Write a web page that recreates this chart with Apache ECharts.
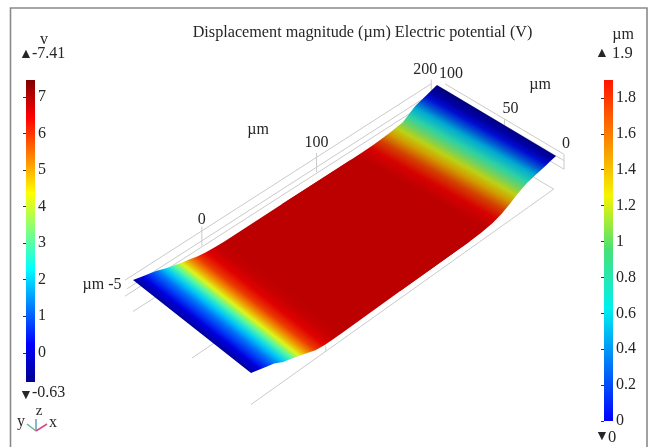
<!DOCTYPE html>
<html><head><meta charset="utf-8">
<style>html,body{margin:0;padding:0;background:#fff}#c{width:650px;height:447px}</style>
<script src="https://cdn.jsdelivr.net/npm/echarts@6/dist/echarts.min.js"></script>
</head><body><div id="c"></div>
<script>
// ---- data (micrometres / volts) ----
const stationX = [-60,-52,-45,-40,-32,-25,-18,-11,-4,4,12,20,70,130,140,150,158,165,170,175,180,186,191,196,200,205];
const stationZBack = [0,-0.2,-0.38,-0.5,-0.8,-1.0,-1.2,-1.35,-1.55,-1.65,-1.72,-1.75,-1.7,-1.7,-1.68,-1.65,-1.58,-1.5,-1.42,-1.35,-1.0,-0.62,-0.45,-0.3,-0.15,0];
const stationZFront = [0,-0.25,-0.45,-0.6,-1.04,-1.25,-1.5,-1.75,-2.0,-2.12,-2.15,-2.15,-2.1,-2.1,-2.05,-1.9,-1.65,-1.3,-1.0,-0.75,-0.55,-0.4,-0.3,-0.2,-0.1,0];
const stationV = [-0.45,0.15,0.9,1.3,2.0,3.0,4.2,5.2,5.9,6.4,6.6,6.67,6.67,6.67,6.67,6.4,5.8,4.9,4.2,3.5,2.8,2.0,1.2,0.5,-0.1,-0.5];
const stationShade = [0.97,0.97,0.97,0.97,0.97,0.97,0.96,0.94,0.92,0.88,0.86,0.85,0.85,0.85,0.85,0.84,0.83,0.82,0.82,0.82,0.82,0.82,0.82,0.82,0.82,0.82];
// the surface is drawn as two halves overlapping on the plateau: [first, last, station whose edge sets the band direction]
const surfaceHalves = [[0,13,5],[12,25,19]];
// wire-frame segments: [x1,y1,z1, x2,y2,z2]
const gridSegments = [
  [-67,100,0.43, 200,100,0.43],[-65,100,-0.43, 200,100,-0.43],[-67,100,-0.96, 200,100,-0.96],
  [-60,0,-2.74, 203,0,-2.74],[-60,50,-2.74, 203,50,-2.74],[-60,100,-2.74, 203,100,-2.74],
  [203,0,-2.74, 203,100,-2.74],
  [212,100,-0.35, 212,0,-0.35],[212,100,-0.9, 212,0,-0.9],[212,100,-1.65, 212,0,-1.65],
  [212,0,-0.35, 212,0,-1.65],
  [0,100,0.8, 0,100,-0.85],[100,100,0.8, 100,100,-0.85],[200,100,0.8, 200,100,-1.2],
  [212,50,-0.35, 212,50,-0.9],[5,0,-2.74, 5,0,-2.3]
];
const xTicks = [0,100,200];
const yTicks = [100,50,0];
const potentialTicks = [0,1,2,3,4,5,6,7];
const displacementTicks = [0,0.2,0.4,0.6,0.8,1,1.2,1.4,1.6,1.8];
const potentialBar = [-0.8,7.46];
const displacementBar = [0,1.9];
const jetStops = [[0,[0,0,143]],[0.125,[0,0,255]],[0.375,[0,255,255]],[0.625,[255,255,0]],[0.875,[255,0,0]],[1,[128,0,0]]];
const rainbowStops = [[0,[0,0,255]],[0.33,[0,240,240]],[0.5,[70,225,120]],[0.66,[245,245,0]],[1,[255,20,0]]];

// ---- view ----
const cornerA=[133,280],cornerB=[437,85],cornerC=[556,156],cornerD=[251,373];
const zScale=11.5, xMin=-60, xMax=205, serif='"Liberation Serif"', ink='#262626', wire='#cbcbcb';
function project(x,y,z){
  const u=(x-xMin)/(xMax-xMin), v=y/100;
  const b=[cornerD[0]+(cornerC[0]-cornerD[0])*u, cornerD[1]+(cornerC[1]-cornerD[1])*u];
  const t=[cornerA[0]+(cornerB[0]-cornerA[0])*u, cornerA[1]+(cornerB[1]-cornerA[1])*u];
  return [b[0]+(t[0]-b[0])*v, b[1]+(t[1]-b[1])*v - zScale*z];
}
function rampColor(stops,t,shade){
  t=Math.max(0,Math.min(1,t));
  let rgb=stops[stops.length-1][1];
  for(let i=1;i<stops.length;i++){ if(t<=stops[i][0]){
    const a=stops[i-1],b=stops[i],f=(t-a[0])/(b[0]-a[0]);
    rgb=a[1].map((c,k)=>c+(b[1][k]-c)*f); break;
  }}
  return 'rgb('+rgb.map(c=>Math.round(c*shade)).join(',')+')';
}
const jet=k=>rampColor(jetStops,(stationV[k]+0.63)/8.04,stationShade[k]);
const G=echarts.graphic;

function renderSurface(params,api){
  const h=surfaceHalves[params.dataIndex], first=h[0], last=h[1], ref=h[2];
  const back=k=>api.coord(project(stationX[k],100,stationZBack[k]));
  const front=k=>api.coord(project(stationX[k],0,stationZFront[k]));
  const pts=[], rear=[];
  for(let k=first;k<=last;k++){ pts.push(back(k)); rear.unshift(front(k)); }
  const a=back(ref), b=front(ref), e=[b[0]-a[0],b[1]-a[1]], L=Math.hypot(e[0],e[1]), n=[-e[1]/L,e[0]/L];
  const mid=k=>{const p=back(k),q=front(k);return [(p[0]+q[0])/2,(p[1]+q[1])/2];};
  const m0=mid(first), m1=mid(last);
  const along=k=>{const m=mid(k);return (m[0]-m0[0])*n[0]+(m[1]-m0[1])*n[1];};
  const span=along(last);
  const stops=[];
  for(let k=first;k<=last;k++) stops.push({offset:Math.max(0,Math.min(1,along(k)/span)),color:jet(k)});
  const fill=new G.LinearGradient(m0[0],m0[1],m0[0]+n[0]*span,m0[1]+n[1]*span,stops,true);
  return {type:'polygon',shape:{points:pts.concat(rear)},style:{fill:fill}};
}
function renderSegment(params,api){
  const s=gridSegments[params.dataIndex];
  const a=api.coord(project(s[0],s[1],s[2])), b=api.coord(project(s[3],s[4],s[5]));
  return {type:'line',shape:{x1:a[0],y1:a[1],x2:b[0],y2:b[1]},style:{stroke:wire,lineWidth:1,fill:null}};
}
function renderTickText(params,api){
  const x=api.value(0),y=api.value(1),z=api.value(2),dx=api.value(3),dy=api.value(5);
  const c=api.coord(project(x,y,z));
  return {type:'text',style:{x:c[0]+dx,y:c[1]+dy,text:String(api.value(4)),textAlign:'center',textVerticalAlign:'bottom',
    font:'16px '+serif,fill:ink}};
}
function barRenderer(lo,hi,stops){
  return function(params,api){
    const a=api.coord([0,hi]),b=api.coord([1,lo]);
    const fill=new G.LinearGradient(0,1,0,0,stops.map(s=>({offset:s[0],color:'rgb('+s[1].join(',')+')'})));
    return {type:'rect',shape:{x:a[0],y:a[1],width:b[0]-a[0],height:b[1]-a[1]},style:{fill:fill}};
  };
}
function txt(x,y,t,size,align){
  return {type:'text',x:x,y:y,silent:true,style:{text:t,font:(size||15)+'px '+serif,fill:ink,textAlign:align||'left',textVerticalAlign:'middle'}};
}
function seg(x1,y1,x2,y2,c,w){
  return {type:'line',silent:true,shape:{x1,y1,x2,y2},style:{stroke:c,lineWidth:w||1.5}};
}
function barAxis(min,max,ticks){
  return {type:'value',position:'right',min:min,max:max,gridIndex:0,
    splitLine:{show:false},axisLine:{show:false},
    axisTick:{show:true,inside:true,length:3,customValues:ticks,lineStyle:{color:'#333',width:1}},
    axisLabel:{show:true,customValues:ticks,margin:3,fontFamily:serif,fontSize:16,color:ink,hideOverlap:false,showMinLabel:true,showMaxLabel:true}};
}
const hiddenX=(g,min,max)=>({type:'value',gridIndex:g,min:min,max:max,show:false});
const tickData=xTicks.map(t=>[t,100,0.8,t===200?-6:0,t,t===0?1:-2])
  .concat(yTicks.map((t,i)=>[212,t,-0.35,t===0?2:6,t,-2]));

const chart=echarts.init(document.getElementById('c'),null,{renderer:'canvas'});
const lAxis=barAxis(potentialBar[0],potentialBar[1],potentialTicks); lAxis.gridIndex=1;
const rAxis=barAxis(displacementBar[0],displacementBar[1],displacementTicks); rAxis.gridIndex=2;
chart.setOption({
  animation:false,backgroundColor:'#fff',
  title:{text:'Displacement magnitude (µm) Electric potential (V)',left:357.5,top:20,textAlign:'center',
    textStyle:{fontFamily:serif,fontSize:16.2,fontWeight:'normal',color:ink}},
  grid:[{left:0,top:0,right:0,bottom:0},{left:26,top:80,width:9,height:302},{left:604,top:80,width:9,height:341}],
  xAxis:[hiddenX(0,0,650),hiddenX(1,0,1),hiddenX(2,0,1)],
  yAxis:[{type:'value',gridIndex:0,min:0,max:447,inverse:true,show:false},lAxis,rAxis],
  series:[
    {type:'custom',xAxisIndex:0,yAxisIndex:0,silent:true,clip:false,renderItem:renderSegment,data:gridSegments.map((s,i)=>[i])},
    {type:'custom',xAxisIndex:0,yAxisIndex:0,silent:true,clip:false,renderItem:renderSurface,data:surfaceHalves},
    {type:'custom',xAxisIndex:0,yAxisIndex:0,silent:true,clip:false,renderItem:renderTickText,data:tickData},
    {type:'custom',xAxisIndex:1,yAxisIndex:1,silent:true,clip:false,renderItem:barRenderer(potentialBar[0],potentialBar[1],jetStops),data:[[0,potentialBar[1]]]},
    {type:'custom',xAxisIndex:2,yAxisIndex:2,silent:true,clip:false,renderItem:barRenderer(displacementBar[0],displacementBar[1],rainbowStops),data:[[0,displacementBar[1]]]}
  ],
  graphic:{elements:[
    {type:'polyline',silent:true,shape:{points:[[10.5,447],[10.5,8],[647,8],[647,447]]},style:{stroke:'#8a8a8a',lineWidth:1.6,fill:null}},
    txt(44,40,'v',16,'center'),
    txt(19,54,'▲',14),txt(32,54,'-7.41',16),
    txt(19,395,'▼',14),txt(32,393,'-0.63',16),
    txt(623,35,'µm',16,'center'),
    txt(595,53,'▲',14),txt(612,54,'1.9',16.5),
    txt(595,436,'▼',14),txt(608,438,'0',16.5),
    txt(258,130,'µm',16,'center'),txt(540,85,'µm',16,'center'),txt(102,285,'µm -5',16,'center'),
    seg(36,431,36,419,'#5b9fc4'),seg(36,431,27,424,'#6fb48e'),seg(36,431,47,424,'#d24c86'),
    txt(39,411,'z',15,'center'),txt(21,422,'y',16,'center'),txt(53,423,'x',16,'center')
  ]}
});
</script></body></html>
